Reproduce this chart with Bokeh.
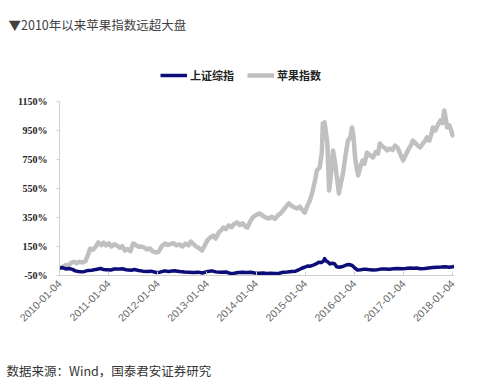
import pandas as pd
from math import pi
from bokeh.plotting import figure
from bokeh.layouts import column
from bokeh.models import (FixedTicker, PrintfTickFormatter, DatetimeTickFormatter,
                          Legend, LegendItem, Range1d, Label)
from bokeh.embed import file_html
from bokeh.resources import INLINE

title_text = "▼2010年以来苹果指数远超大盘"
source_text = "数据来源：Wind，国泰君安证券研究"
series_names = ["上证综指", "苹果指数"]

x_tick_labels = ["2010-01-04", "2011-01-04", "2012-01-04", "2013-01-04", "2014-01-04",
                 "2015-01-04", "2016-01-04", "2017-01-04", "2018-01-04"]
y_ticks = [-50, 150, 350, 550, 750, 950, 1150]

apple_dates = [
    "2010-01-04", "2010-01-25", "2010-02-20", "2010-03-10", "2010-04-01", "2010-04-20",
    "2010-05-10", "2010-06-01", "2010-06-25", "2010-07-15", "2010-08-01", "2010-08-20",
    "2010-09-10", "2010-10-01", "2010-10-20", "2010-11-10", "2010-11-28", "2010-12-15",
    "2011-01-05", "2011-01-25", "2011-02-15", "2011-03-08", "2011-03-28", "2011-04-15",
    "2011-05-05", "2011-05-25", "2011-06-15", "2011-07-05", "2011-07-25", "2011-08-15",
    "2011-09-05", "2011-09-25", "2011-10-15", "2011-11-05", "2011-11-25", "2011-12-20",
    "2012-01-10", "2012-02-01", "2012-02-28", "2012-03-20", "2012-04-10", "2012-05-01",
    "2012-05-20", "2012-06-15", "2012-07-05", "2012-07-28", "2012-08-20", "2012-09-05",
    "2012-09-25", "2012-10-15", "2012-11-05", "2012-11-28", "2012-12-15", "2013-01-05",
    "2013-01-28", "2013-02-20", "2013-03-10", "2013-04-01", "2013-04-20", "2013-05-05",
    "2013-05-25", "2013-06-15", "2013-07-05", "2013-07-25", "2013-08-15", "2013-09-05",
    "2013-09-25", "2013-10-15", "2013-11-01", "2013-11-20", "2013-12-10", "2014-01-01",
    "2014-02-01", "2014-02-25", "2014-03-20", "2014-04-10", "2014-05-01", "2014-05-25",
    "2014-06-15", "2014-07-05", "2014-07-25", "2014-08-15", "2014-09-05", "2014-09-25",
    "2014-10-15", "2014-11-05", "2014-11-25", "2014-12-15", "2015-01-01", "2015-01-20",
    "2015-02-08", "2015-02-28", "2015-03-18", "2015-04-01", "2015-04-22", "2015-05-08",
    "2015-05-15", "2015-05-28", "2015-06-08", "2015-06-18", "2015-07-01", "2015-07-12",
    "2015-07-30", "2015-08-12", "2015-08-28", "2015-09-12", "2015-09-25", "2015-10-12",
    "2015-10-28", "2015-11-18", "2015-12-05", "2015-12-18", "2015-12-30", "2016-01-10",
    "2016-01-20", "2016-02-02", "2016-02-18", "2016-03-05", "2016-03-20", "2016-04-08",
    "2016-04-28", "2016-05-22", "2016-06-10", "2016-06-28", "2016-07-12", "2016-07-30",
    "2016-08-18", "2016-09-05", "2016-09-25", "2016-10-15", "2016-11-02", "2016-11-22",
    "2016-12-10", "2017-01-01", "2017-01-20", "2017-02-10", "2017-03-01", "2017-03-15",
    "2017-04-05", "2017-04-22", "2017-05-08", "2017-05-28", "2017-06-15", "2017-06-28",
    "2017-07-15", "2017-08-01", "2017-08-10", "2017-08-28", "2017-09-15", "2017-10-05",
    "2017-10-20", "2017-11-03", "2017-11-14", "2017-11-25", "2017-12-10", "2017-12-25",
    "2018-01-04", "2018-01-15",
]
apple_values = [
    0, 8, 22, 18, 38, 45,
    35, 44, 40, 48, 85, 136,
    128, 150, 178, 160, 176, 158,
    172, 150, 166, 157, 140, 152,
    122, 132, 118, 171, 160, 148,
    150, 143, 130, 138, 118, 109,
    112, 150, 171, 160, 168, 172,
    158, 164, 150, 170, 158, 184,
    168, 150, 140, 122, 150, 190,
    212, 225, 205, 245, 262, 281,
    270, 295, 283, 305, 316, 298,
    310, 290, 281, 320, 350, 365,
    378, 360, 348, 343, 355, 340,
    365, 378, 400, 425, 447, 430,
    420, 412, 425, 400, 384, 430,
    467, 530, 605, 674, 695, 800,
    998, 1005, 930, 860, 536, 620,
    812, 740, 626, 516, 580, 653,
    760, 881, 900, 971, 900, 764,
    700, 640, 700, 743, 720, 798,
    780, 764, 800, 790, 860, 840,
    830, 812, 825, 815, 846, 830,
    790, 743, 780, 820, 850, 881,
    860, 845, 833, 860, 880, 902,
    880, 930, 971, 950, 985, 1019,
    1000, 1088, 1030, 971, 985, 950,
    916, 930,
]

sh_dates = [
    "2010-01-04", "2010-01-25", "2010-02-20", "2010-03-15", "2010-04-10", "2010-05-01",
    "2010-05-25", "2010-06-20", "2010-07-10", "2010-08-05", "2010-09-01", "2010-10-01",
    "2010-11-05", "2010-11-25", "2010-12-20", "2011-01-20", "2011-02-15", "2011-03-15",
    "2011-04-15", "2011-05-15", "2011-06-20", "2011-07-15", "2011-08-15", "2011-09-15",
    "2011-10-20", "2011-11-15", "2011-12-25", "2012-01-20", "2012-02-25", "2012-03-25",
    "2012-05-05", "2012-06-15", "2012-07-20", "2012-08-20", "2012-09-25", "2012-11-01",
    "2012-12-01", "2013-01-10", "2013-02-10", "2013-03-10", "2013-04-15", "2013-05-25",
    "2013-06-25", "2013-07-25", "2013-08-25", "2013-09-25", "2013-10-25", "2013-11-25",
    "2013-12-25", "2014-01-25", "2014-02-25", "2014-03-25", "2014-04-25", "2014-05-25",
    "2014-06-25", "2014-07-25", "2014-08-25", "2014-09-25", "2014-10-25", "2014-11-15",
    "2014-12-10", "2014-12-31", "2015-01-20", "2015-02-10", "2015-03-05", "2015-03-25",
    "2015-04-15", "2015-05-05", "2015-05-20", "2015-05-28", "2015-06-10", "2015-06-25",
    "2015-07-08", "2015-07-25", "2015-08-10", "2015-08-26", "2015-09-15", "2015-10-10",
    "2015-11-05", "2015-11-25", "2015-12-20", "2016-01-10", "2016-01-28", "2016-02-20",
    "2016-03-20", "2016-04-15", "2016-05-20", "2016-06-20", "2016-07-20", "2016-08-20",
    "2016-09-20", "2016-10-20", "2016-11-20", "2016-12-20", "2017-01-20", "2017-02-20",
    "2017-03-20", "2017-04-10", "2017-05-10", "2017-06-10", "2017-07-10", "2017-08-10",
    "2017-09-10", "2017-10-10", "2017-11-10", "2017-12-10", "2018-01-04", "2018-01-15",
]
sh_values = [
    0, 5, -5, -2, -8, -18,
    -22, -25, -22, -15, -14, -8,
    -2, -8, -10, -12, -5, -6,
    -3, -10, -14, -9, -15, -20,
    -22, -20, -29, -27, -18, -22,
    -18, -23, -26, -28, -30, -27,
    -33, -22, -18, -25, -28, -26,
    -36, -34, -30, -28, -30, -28,
    -33, -35, -33, -36, -35, -36,
    -34, -28, -26, -22, -20, -12,
    0, 7, 15, 14, 22, 30,
    42, 40, 49, 66, 50, 42,
    30, 35, 32, 10, 7, 12,
    22, 26, 19, 0, -12, -10,
    -6, -9, -12, -10, -6, -5,
    -7, -4, -1, -3, -2, 1,
    0, 2, -4, -2, 2, 5,
    7, 8, 10, 7, 10, 12,
]

apple_x = pd.to_datetime(apple_dates)
sh_x = pd.to_datetime(sh_dates)
tick_x = pd.to_datetime(x_tick_labels)


def text_strip(height, text, x, y, color):
    f = figure(width=500, height=height, output_backend="svg", toolbar_location=None,
               x_axis_location=None, y_axis_location=None,
               x_range=Range1d(0, 500), y_range=Range1d(0, height),
               min_border=0, frame_align=False)
    f.outline_line_color = None
    f.grid.visible = False
    f.add_layout(Label(x=x, y=y, x_units="screen", y_units="screen", text=text,
                       text_font="Noto Sans CJK SC", text_font_size="12.5px",
                       text_color=color, text_baseline="middle"))
    return f


header = text_strip(40, title_text, 8, 16, "#404040")
footer = text_strip(36, source_text, 6, 11, "#333333")

p = figure(width=500, height=305, output_backend="svg", toolbar_location=None,
           x_axis_type="datetime", frame_align=False,
           x_range=Range1d(pd.Timestamp("2010-01-04"), pd.Timestamp("2018-01-18")),
           y_range=Range1d(-50, 1391),
           min_border_left=59, min_border_right=46, min_border_top=26, min_border_bottom=70)
p.outline_line_color = None
p.grid.visible = False
p.background_fill_color = "white"
p.border_fill_color = "white"

r_apple = p.line(apple_x, apple_values, line_color="#C0C0C0", line_width=4.5, line_join="round")
r_sh = p.line(sh_x, sh_values, line_color="#0D0D7A", line_width=3.5, line_join="round")

p.xaxis.ticker = FixedTicker(ticks=[t.value / 1e6 for t in tick_x])
p.xaxis.formatter = DatetimeTickFormatter(days="%Y-%m-%d", months="%Y-%m-%d", years="%Y-%m-%d")
p.xaxis.major_label_orientation = pi / 4
p.xaxis.major_label_text_font = "Liberation Sans"
p.xaxis.major_label_text_font_size = "10.5px"
p.xaxis.major_label_text_color = "#666666"
p.xaxis.major_tick_in = 4
p.xaxis.major_tick_out = 0
p.xaxis.minor_tick_line_color = None
p.xaxis.axis_line_color = "#D0D0D0"
p.xaxis.major_tick_line_color = "#D0D0D0"
p.xaxis.major_label_standoff = 6

p.yaxis.ticker = FixedTicker(ticks=y_ticks)
p.yaxis.bounds = (-50, 1150)
p.yaxis.formatter = PrintfTickFormatter(format="%d%%")
p.yaxis.major_label_text_font = "Liberation Serif"
p.yaxis.major_label_text_font_style = "bold"
p.yaxis.major_label_text_font_size = "10px"
p.yaxis.major_label_text_color = "#222222"
p.yaxis.major_tick_in = 0
p.yaxis.major_tick_out = 3
p.yaxis.minor_tick_line_color = None
p.yaxis.axis_line_color = "#D0D0D0"
p.yaxis.major_tick_line_color = "#D0D0D0"
p.yaxis.major_label_standoff = 9

legend = Legend(items=[LegendItem(label=series_names[0], renderers=[r_sh]),
                       LegendItem(label=series_names[1], renderers=[r_apple])],
                orientation="horizontal", location=(101, 192),
                label_text_font="Noto Sans CJK SC", label_text_font_style="bold",
                label_text_font_size="11px", label_text_color="#222222",
                glyph_width=27, glyph_height=14, label_standoff=3, spacing=13,
                padding=0, margin=0, border_line_color=None, background_fill_alpha=0)
p.add_layout(legend, "center")

layout = column(header, p, footer, spacing=0)
open("out.html", "w").write(file_html(layout, INLINE))
